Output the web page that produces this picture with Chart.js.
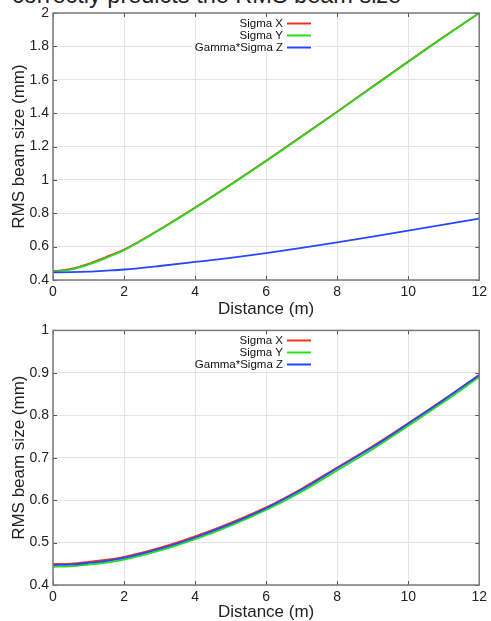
<!DOCTYPE html>
<html><head><meta charset="utf-8">
<script src="https://cdn.jsdelivr.net/npm/chart.js@4"></script>
<style>
html,body{margin:0;padding:0;background:#fff;width:491px;height:621px;overflow:hidden;position:relative;font-family:'Liberation Sans',Arial,sans-serif}
#cap{position:absolute;left:12px;top:-17px;font-size:23.5px;line-height:24px;color:#222;white-space:nowrap}
#c1{position:absolute;left:0;top:0}
#c2{position:absolute;left:0;top:318px}
</style></head><body>
<div id="cap">correctly predicts the RMS beam size</div>
<canvas id="c1" width="491" height="318"></canvas>
<canvas id="c2" width="491" height="303"></canvas>
<script>
// ---- data ----
const distance = [0, 0.5, 1, 1.5, 2, 3, 4, 5, 6, 7, 8, 9, 10, 11, 12];
const seriesLabels = ['Sigma X', 'Sigma Y', 'Gamma*Sigma Z'];
// top chart
const topSigmaX = [0.453, 0.466, 0.497, 0.538, 0.582, 0.703, 0.835, 0.973, 1.115, 1.261, 1.409, 1.559, 1.710, 1.857, 2.0];
const topSigmaY = [0.450, 0.462, 0.492, 0.533, 0.578, 0.700, 0.832, 0.970, 1.112, 1.258, 1.406, 1.556, 1.707, 1.854, 2.0];
const topGammaSigmaZ = [0.446, 0.447, 0.450, 0.456, 0.463, 0.484, 0.508, 0.533, 0.561, 0.592, 0.625, 0.660, 0.696, 0.732, 0.768];
// bottom chart
const botSigmaX = [0.4495, 0.4505, 0.4545, 0.4595, 0.4665, 0.4875, 0.5145, 0.5465, 0.583, 0.627, 0.677, 0.727, 0.781, 0.837, 0.895];
const botSigmaY = [0.443, 0.444, 0.448, 0.453, 0.460, 0.481, 0.508, 0.540, 0.577, 0.620, 0.670, 0.720, 0.775, 0.831, 0.890];
const botGammaSigmaZ = [0.447, 0.448, 0.452, 0.457, 0.464, 0.485, 0.512, 0.544, 0.581, 0.625, 0.675, 0.725, 0.780, 0.836, 0.895];
// ticks
const xTicks = [0, 2, 4, 6, 8, 10, 12];
const yTicksTop = [0.4, 0.6, 0.8, 1, 1.2, 1.4, 1.6, 1.8, 2];
const yTicksBot = [0.4, 0.5, 0.6, 0.7, 0.8, 0.9, 1];
const xTitle = 'Distance (m)';
const yTitle = 'RMS beam size (mm)';

// ---- styles ----
const colors = ['#f2341f', '#22e01c', '#2548ff'];
const FONT = "'Liberation Sans', Arial, sans-serif";

const legendPlugin = {
  id: 'innerLegend',
  afterDatasetsDraw(chart) {
    const a = chart.chartArea, ctx = chart.ctx;
    ctx.save();
    ctx.fillStyle = '#fff';
    ctx.fillRect(198, a.top + 1, 116, 38);
    ctx.font = '11.5px ' + FONT;
    ctx.textAlign = 'right';
    ctx.textBaseline = 'middle';
    chart.data.datasets.forEach((d, i) => {
      const yy = Math.round(a.top + 10 + i * 12);
      ctx.fillStyle = '#111';
      ctx.fillText(d.label, 283, yy + 0.5);
      ctx.strokeStyle = d.borderColor;
      ctx.lineWidth = 2;
      ctx.beginPath();
      ctx.moveTo(287, yy + 0.5);
      ctx.lineTo(311, yy + 0.5);
      ctx.stroke();
    });
    ctx.restore();
  }
};

const framePlugin = {
  id: 'frame',
  afterDatasetsDraw(chart) {
    const {ctx, chartArea: a, scales: {x, y}} = chart;
    ctx.save();
    ctx.strokeStyle = '#555';
    ctx.lineWidth = 1;
    ctx.beginPath();
    x.ticks.forEach(t => {
      const px = Math.round(x.getPixelForValue(t.value)) + 0.5;
      ctx.moveTo(px, a.bottom); ctx.lineTo(px, a.bottom - 4);
      ctx.moveTo(px, a.top); ctx.lineTo(px, a.top + 4);
    });
    y.ticks.forEach(t => {
      const py = Math.round(y.getPixelForValue(t.value)) + 0.5;
      ctx.moveTo(a.left, py); ctx.lineTo(a.left + 4, py);
      ctx.moveTo(a.right, py); ctx.lineTo(a.right - 4, py);
    });
    ctx.stroke();
    ctx.strokeStyle = '#7a7a7a';
    ctx.lineWidth = 1.5;
    ctx.strokeRect(a.left, a.top, a.right - a.left, a.bottom - a.top);
    ctx.restore();
  }
};

function makeChart(id, series, yTicks, padTop, xHeight) {
  const datasets = series.map((s, i) => ({
    label: seriesLabels[i],
    data: distance.map((d, k) => ({x: d, y: s[k]})),
    borderColor: colors[i],
    borderWidth: 1.8,
    pointRadius: 0,
    cubicInterpolationMode: 'monotone',
    order: 2 - i,
    fill: false
  }));
  return new Chart(document.getElementById(id), {
    type: 'line',
    data: {datasets},
    plugins: [legendPlugin, framePlugin],
    options: {
      responsive: false,
      animation: false,
      devicePixelRatio: 1,
      layout: {padding: {left: 0, right: 10, top: padTop, bottom: 0}},
      plugins: {legend: {display: false}, tooltip: {enabled: false}},
      scales: {
        x: {
          type: 'linear',
          min: xTicks[0], max: xTicks[xTicks.length - 1],
          afterBuildTicks: sc => { sc.ticks = xTicks.map(v => ({value: v})); },
          afterFit: sc => { sc.height = xHeight; },
          grid: {color: '#e4e4e4', drawTicks: false, lineWidth: 1},
          border: {display: false},
          ticks: {padding: 4, color: '#222', font: {family: FONT, size: 14}, maxRotation: 0,
            callback: v => String(v)},
          title: {display: true, text: xTitle, color: '#222', font: {family: FONT, size: 17, lineHeight: 1}, padding: {top: 0, bottom: 0}}
        },
        y: {
          type: 'linear',
          min: yTicks[0], max: yTicks[yTicks.length - 1],
          afterBuildTicks: sc => { sc.ticks = yTicks.map(v => ({value: v})); },
          afterFit: sc => { sc.width = 53; },
          grid: {color: '#e4e4e4', drawTicks: false, lineWidth: 1},
          border: {display: false},
          ticks: {padding: 4, color: '#222', font: {family: FONT, size: 14},
            callback: v => String(+v.toFixed(2))},
          title: {display: true, text: yTitle, color: '#222', font: {family: FONT, size: 17, lineHeight: 1}, padding: {top: 10.5, bottom: 0}}
        }
      }
    }
  });
}

makeChart('c1', [topSigmaX, topSigmaY, topGammaSigmaZ], yTicksTop, 13, 38);
makeChart('c2', [botSigmaX, botSigmaY, botGammaSigmaZ], yTicksBot, 6, 36);
</script>
</body></html>
